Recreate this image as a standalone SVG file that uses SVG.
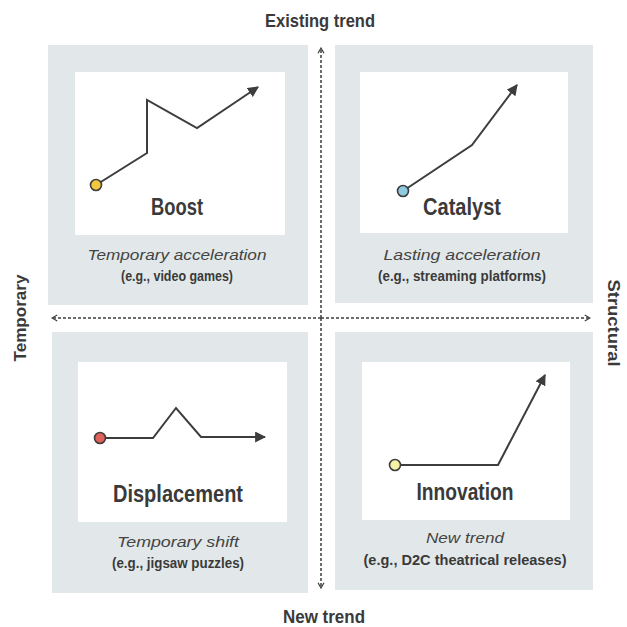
<svg xmlns="http://www.w3.org/2000/svg" width="627" height="627" viewBox="0 0 627 627">
<defs>
<style>
.bg{fill:#e2e8e9}
.inner{fill:#ffffff}
.title{font-family:"Liberation Sans",Arial,sans-serif;font-weight:bold;fill:#3a3a3a}
.name{font-family:"Liberation Sans",Arial,sans-serif;font-weight:bold;font-size:23px;fill:#3a3a3a}
.sub{font-family:"Liberation Sans",Arial,sans-serif;font-style:italic;font-size:15.5px;fill:#444}
.ex{font-family:"Liberation Sans",Arial,sans-serif;font-weight:bold;font-size:14px;fill:#3a3a3a}
.trend{fill:none;stroke:#3d3d3d;stroke-width:2;stroke-linejoin:miter}
.axis{fill:none;stroke:#3d3d3d;stroke-width:1.5;stroke-dasharray:3 2}
.dot{stroke:#3d3d3d;stroke-width:1.6}
</style>
<marker id="head" viewBox="0 0 10 10" refX="9" refY="5" markerWidth="5.5" markerHeight="5.5" orient="auto">
<path d="M0,0 L10,5 L0,10 z" fill="#3d3d3d"/>
</marker>
<marker id="chev" viewBox="0 0 10 10" refX="9" refY="5" markerWidth="5" markerHeight="5" orient="auto" markerUnits="strokeWidth">
<path d="M2,1 L9,5 L2,9" fill="none" stroke="#3d3d3d" stroke-width="1.6"/>
</marker>
</defs>
<rect width="627" height="627" fill="#ffffff"/>

<g id="boost">
<rect class="bg" x="48" y="45" width="260" height="260"/>
<rect class="inner" x="75" y="72" width="210" height="163"/>
<polyline class="trend" points="96,185 147,153 147,100 197,128 258,87" marker-end="url(#head)"/>
<circle class="dot" cx="96" cy="185" r="5.5" fill="#f3c83e"/>
<text class="name" x="177" y="215" text-anchor="middle" textLength="52" lengthAdjust="spacingAndGlyphs">Boost</text>
<text class="sub" x="177" y="260" text-anchor="middle" textLength="179" lengthAdjust="spacingAndGlyphs">Temporary acceleration</text>
<text class="ex" x="177" y="281" text-anchor="middle" textLength="112" lengthAdjust="spacingAndGlyphs">(e.g., video games)</text>
</g>

<g id="catalyst">
<rect class="bg" x="335" y="45" width="258" height="258"/>
<rect class="inner" x="360" y="72" width="208" height="161"/>
<polyline class="trend" points="403,191 472,145 517,85" marker-end="url(#head)"/>
<circle class="dot" cx="403" cy="191" r="5.5" fill="#8fcbe0"/>
<text class="name" x="462" y="215" text-anchor="middle" textLength="78" lengthAdjust="spacingAndGlyphs">Catalyst</text>
<text class="sub" x="462" y="260" text-anchor="middle" textLength="157" lengthAdjust="spacingAndGlyphs">Lasting acceleration</text>
<text class="ex" x="462" y="281" text-anchor="middle" textLength="168" lengthAdjust="spacingAndGlyphs">(e.g., streaming platforms)</text>
</g>

<g id="displacement">
<rect class="bg" x="52" y="332" width="256" height="261"/>
<rect class="inner" x="78" y="362" width="209" height="160"/>
<polyline class="trend" points="100,438 153,438 176,408 201,437 265,437" marker-end="url(#head)"/>
<circle class="dot" cx="100" cy="438" r="5.5" fill="#e0605a"/>
<text class="name" x="178" y="502" text-anchor="middle" textLength="130" lengthAdjust="spacingAndGlyphs">Displacement</text>
<text class="sub" x="178" y="547" text-anchor="middle" textLength="122" lengthAdjust="spacingAndGlyphs">Temporary shift</text>
<text class="ex" x="178" y="568" text-anchor="middle" textLength="132" lengthAdjust="spacingAndGlyphs">(e.g., jigsaw puzzles)</text>
</g>

<g id="innovation">
<rect class="bg" x="335" y="332" width="258" height="258"/>
<rect class="inner" x="362" y="362" width="208" height="158"/>
<polyline class="trend" points="395,465 498,465 545,375" marker-end="url(#head)"/>
<circle class="dot" cx="395" cy="465" r="5.5" fill="#f6f1a6"/>
<text class="name" x="465" y="500" text-anchor="middle" textLength="97" lengthAdjust="spacingAndGlyphs">Innovation</text>
<text class="sub" x="465" y="543" text-anchor="middle" textLength="78" lengthAdjust="spacingAndGlyphs">New trend</text>
<text class="ex" x="465" y="565" text-anchor="middle" textLength="203" lengthAdjust="spacingAndGlyphs">(e.g., D2C theatrical releases)</text>
</g>

<g id="connectors">
<line class="axis" x1="321" y1="318" x2="321" y2="48" marker-end="url(#chev)"/>
<line class="axis" x1="321" y1="318" x2="321" y2="588" marker-end="url(#chev)"/>
<line class="axis" x1="321" y1="318" x2="52" y2="318" marker-end="url(#chev)"/>
<line class="axis" x1="321" y1="318" x2="590" y2="318" marker-end="url(#chev)"/>
</g>

<g id="axis-labels">
<text class="title" x="320" y="27" font-size="19" text-anchor="middle" textLength="110" lengthAdjust="spacingAndGlyphs">Existing trend</text>
<text class="title" x="324" y="623" font-size="19" text-anchor="middle" textLength="82" lengthAdjust="spacingAndGlyphs">New trend</text>
<text class="title" transform="translate(26,318) rotate(-90)" font-size="17" text-anchor="middle" textLength="87" lengthAdjust="spacingAndGlyphs">Temporary</text>
<text class="title" transform="translate(608,323) rotate(90)" font-size="17" text-anchor="middle" textLength="87" lengthAdjust="spacingAndGlyphs">Structural</text>
</g>
</svg>
